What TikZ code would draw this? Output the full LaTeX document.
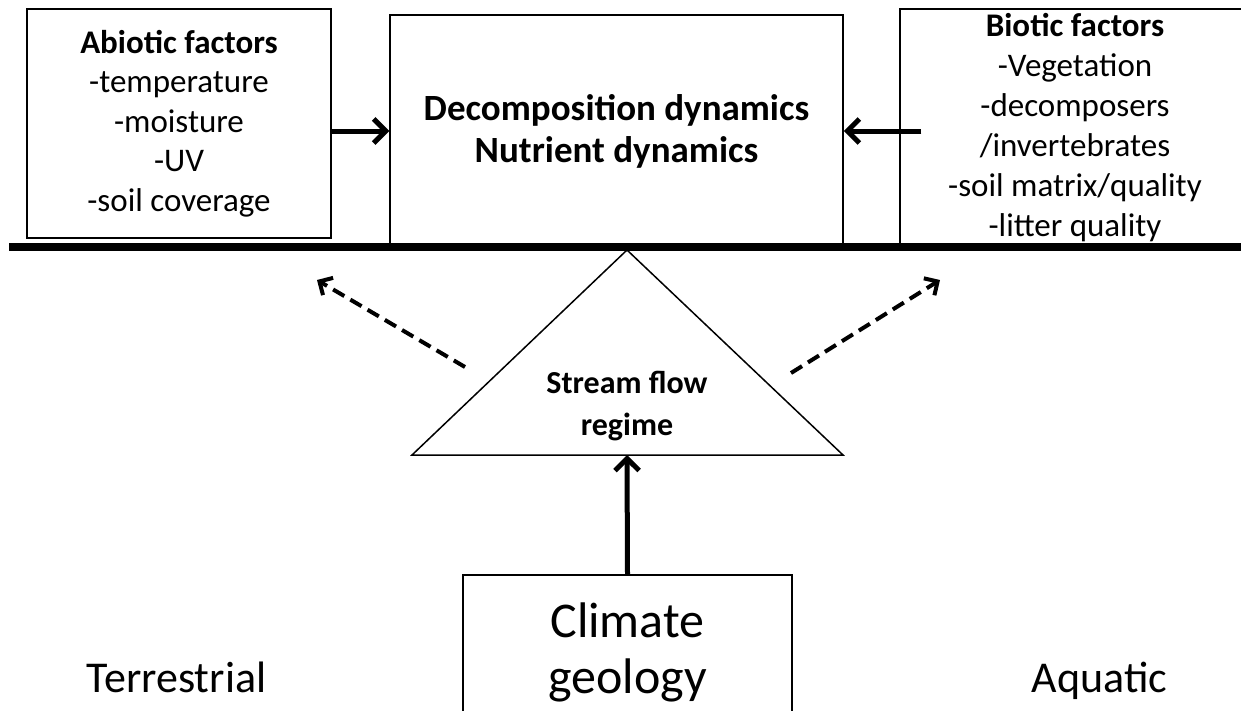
\documentclass[tikz,border=0pt]{standalone}
\usepackage{fontspec}
\setmainfont{Carlito}
\usetikzlibrary{arrows.meta}

\begin{document}
\begin{tikzpicture}[x=1pt, y=-1pt,
  box/.style={shape=rectangle, draw, line width=1.5pt, inner sep=0pt, align=center},
  arr/.style={-{Straight Barb[length=12pt,width=24pt]}, line width=5pt},
  darr/.style={-{Straight Barb[length=10pt,width=20pt]}, line width=4pt, dash pattern=on 13pt off 7pt}]
\useasboundingbox (0,0) rectangle (1241,710);

\node [box, minimum width=304pt, minimum height=229pt, font=\fontsize{33}{39.5}\selectfont] (abiotic) at (179,123.5) {\textbf{Abiotic factors}\\-temperature\\-moisture\\-UV\\-soil coverage};
\node [box, minimum width=453pt, minimum height=232pt, font=\fontsize{37}{42}\selectfont\bfseries] (decomp) at (616.5,131) {Decomposition dynamics\\Nutrient dynamics};
\node [box, minimum width=350pt, minimum height=238pt, font=\fontsize{33}{40}\selectfont] (biotic) at (1075,128) {\textbf{Biotic factors}\\-Vegetation\\-decomposers\\/invertebrates\\-soil matrix/quality\\-litter quality};

% triangle under the ground line
\coordinate (apex) at (627,250);
\coordinate (baseL) at (412,455);
\coordinate (baseR) at (843,455);
\coordinate (baseM) at (627,455);
\draw [line width=1.5pt, fill=white] (apex) -- (baseL) -- (baseR) -- cycle;
\node [font=\fontsize{32}{42}\selectfont\bfseries, align=center] (flow) at (627,406) {Stream flow\\regime};

% ground line
\coordinate (groundL) at (9,247);
\coordinate (groundR) at (1241,247);
\draw [line width=8pt] (groundL) -- (groundR);

\node [box, minimum width=329pt, minimum height=154pt, font=\fontsize{50}{56}\selectfont] (climate) at (627.5,652) {Climate\\geology};

\node [font=\fontsize{44}{50}\selectfont] (terr) at (176.5,677) {Terrestrial};
\node [font=\fontsize{44}{50}\selectfont] (aqua) at (1099.5,681) {Aquatic};

\draw [arr] (abiotic.east |- decomp) -- (decomp.west);
\draw [arr] ([xshift=22pt]biotic.west |- decomp) -- (decomp.east);
\draw [arr] (climate.north) -- (baseM);

\coordinate (tailL) at (465,367);
\coordinate (tipL) at (317,280);
\coordinate (tailR) at (791,373);
\coordinate (tipR) at (940,280);
\draw [darr] (tailL) -- (tipL);
\draw [darr] (tailR) -- (tipR);
\end{tikzpicture}
\end{document}
